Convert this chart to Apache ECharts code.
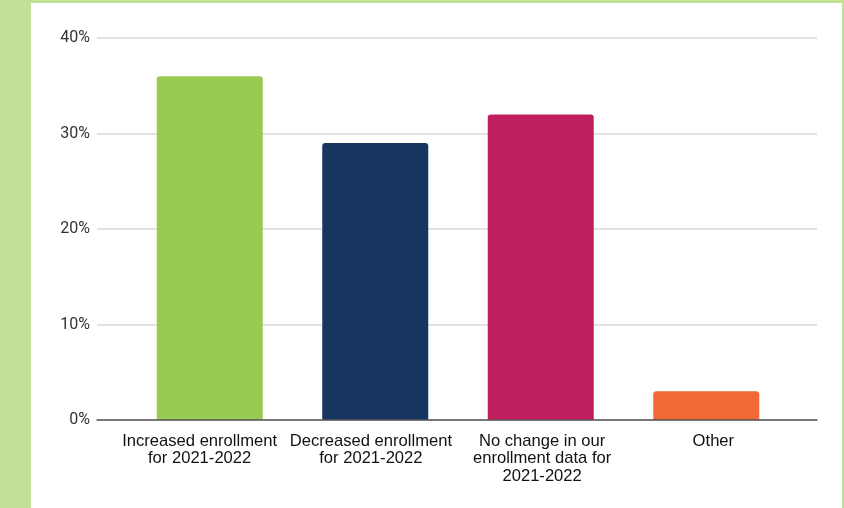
<!DOCTYPE html>
<html>
<head>
<meta charset="utf-8">
<script src="https://cdn.jsdelivr.net/npm/echarts@6/dist/echarts.min.js"></script>
<style>
html,body{margin:0;padding:0;background:#fff;}
#chart{width:844px;height:508px;}
</style>
</head>
<body>
<div id="chart"></div>
<script>
const categories = [
  "Increased enrollment\nfor 2021-2022",
  "Decreased enrollment\nfor 2021-2022",
  "No change in our\nenrollment data for\n2021-2022",
  "Other"
];
const values = [36, 29, 32, 3];
const barColors = ["#98C952", "#17365F", "#C01F5D", "#F06A35"];
const yTicks = [0, 10, 20, 30, 40];

const chart = echarts.init(document.getElementById('chart'), null, {renderer: 'canvas'});
const border = "#C3E196";
chart.setOption({
  backgroundColor: '#ffffff',
  animation: false,
  graphic: [
    {type: 'rect', left: 0, top: 0, shape: {width: 31, height: 508}, style: {fill: border}, z: 100},
    {type: 'rect', left: 0, top: 0, shape: {width: 844, height: 3}, style: {fill: border}, z: 100},
    {type: 'rect', left: 842, top: 0, shape: {width: 2, height: 508}, style: {fill: border}, z: 100}
  ],
  grid: [
    {left: 97, right: 27, top: 38, bottom: 88},
    {left: 127, right: 55, top: 38, bottom: 88},
    {left: 114, right: 45, top: 38, bottom: 88}
  ],
  xAxis: [
    {gridIndex: 0, type: 'value', min: 0, max: 1, axisLine: {show: true, lineStyle: {color: '#555555', width: 1.5}},
     axisTick: {show: false}, axisLabel: {show: false}, splitLine: {show: false}, z: 5},
    {gridIndex: 1, type: 'category', data: categories,
     axisLine: {show: false}, axisTick: {show: false}, axisLabel: {show: false}},
    {gridIndex: 2, type: 'category', data: categories,
     axisLine: {show: false}, axisTick: {show: false},
     axisLabel: {interval: 0, margin: 13, color: '#111111', fontFamily: 'Liberation Sans, Arial, sans-serif', fontSize: 16.6, lineHeight: 17.2, align: 'center'}}
  ],
  yAxis: [
    {gridIndex: 0, type: 'value', min: yTicks[0], max: yTicks[yTicks.length - 1], interval: 10,
     axisLine: {show: false}, axisTick: {show: false},
     axisLabel: {formatter: '{value}%', margin: 7, color: '#333333', fontFamily: 'Roboto, sans-serif', fontSize: 16},
     splitLine: {lineStyle: {color: '#D9D9D9', width: 1.5}}},
    {gridIndex: 1, type: 'value', min: yTicks[0], max: yTicks[yTicks.length - 1], interval: 10, show: false,
     splitLine: {show: false}},
    {gridIndex: 2, type: 'value', min: yTicks[0], max: yTicks[yTicks.length - 1], interval: 10, show: false,
     splitLine: {show: false}}
  ],
  series: [{
    type: 'bar',
    xAxisIndex: 1,
    yAxisIndex: 1,
    barWidth: 106,
    data: values.map((v, i) => ({value: v, itemStyle: {color: barColors[i], borderRadius: [3, 3, 0, 0]}}))
  }]
});
</script>
</body>
</html>
